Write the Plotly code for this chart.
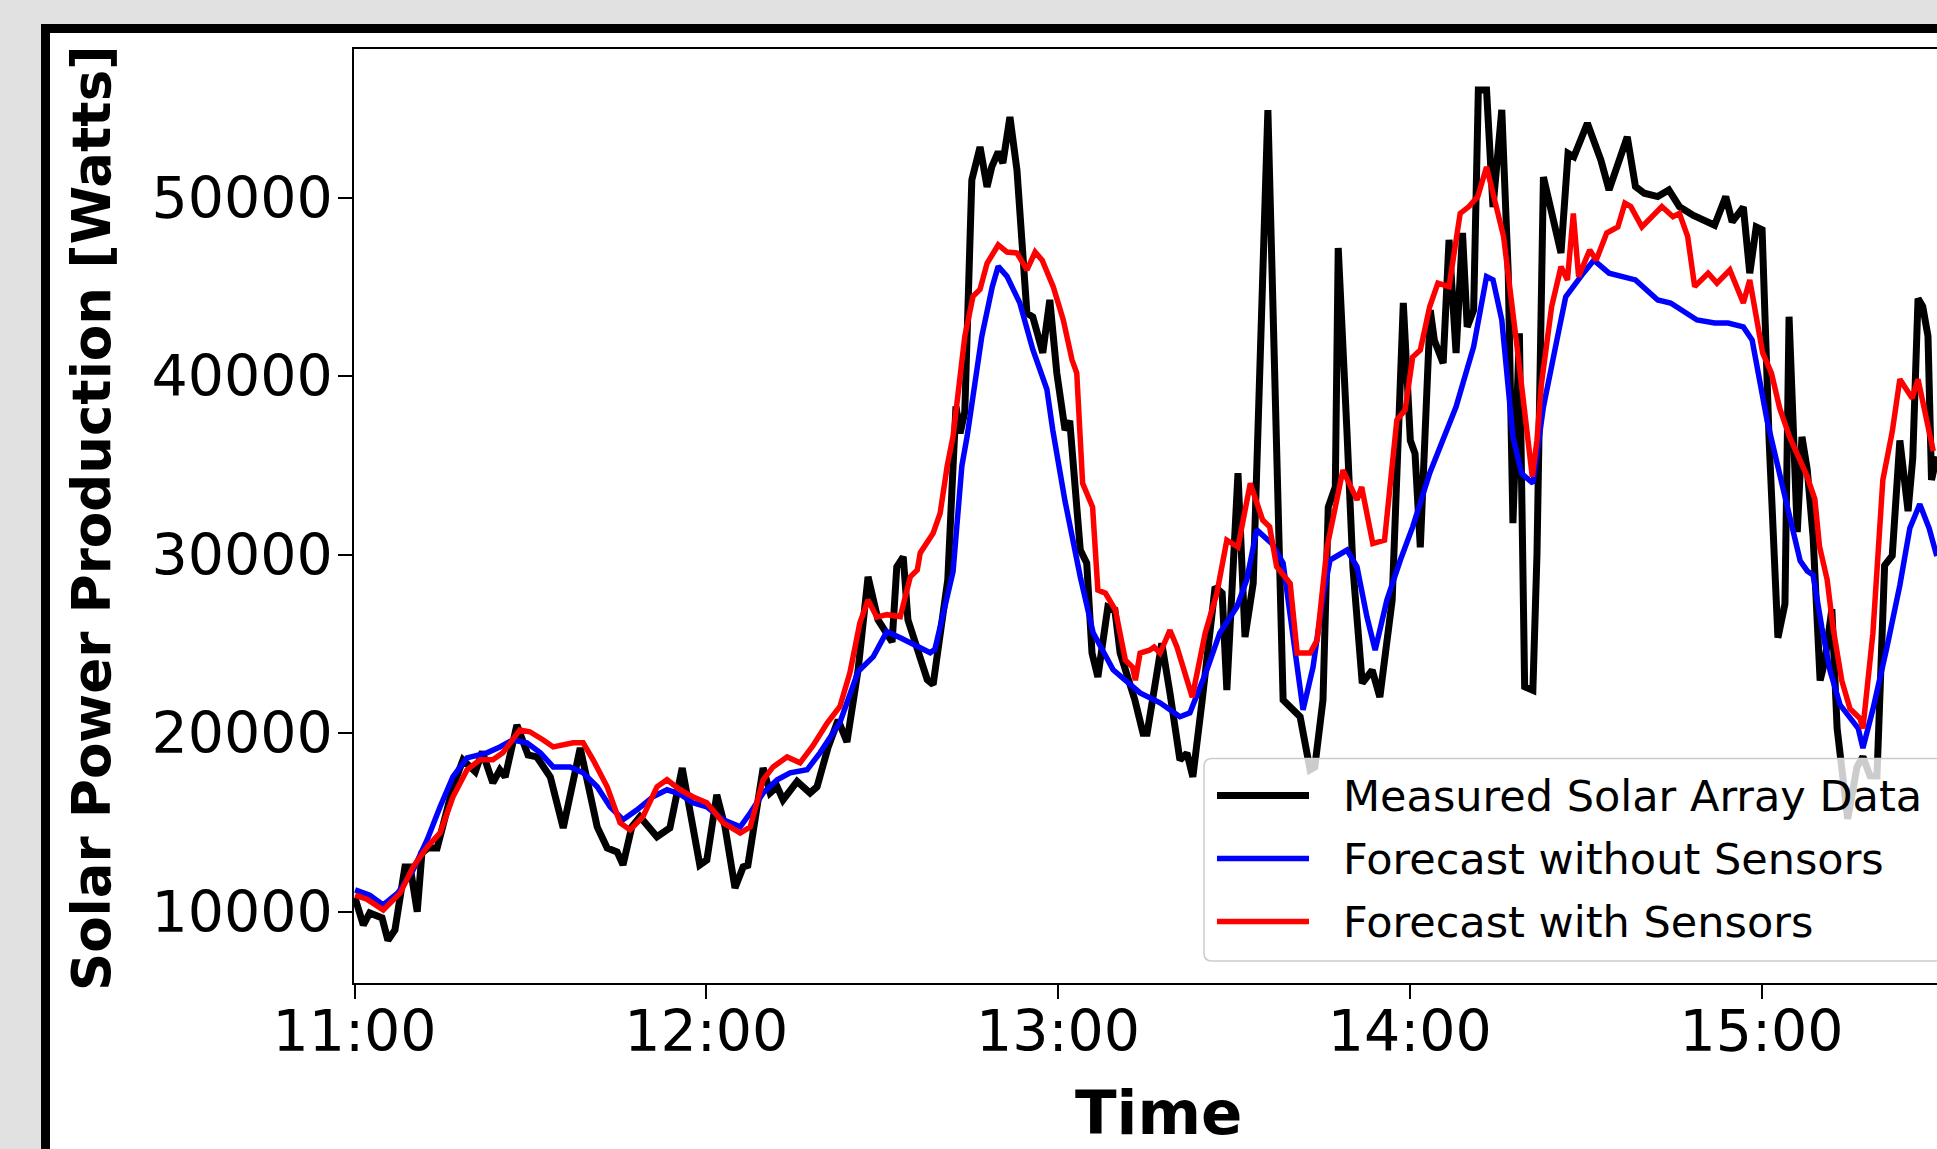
import plotly.graph_objects as go

# ---------------- data (minutes after 11:00, Watts) ----------------
t_measured = [0.1,1.5,2.6,4.7,5.7,6.9,8.6,9.5,10.7,11.5,
              12.5,14.1,14.9,16.8,18.5,20.6,21.8,23.6,24.8,25.7,
              27.7,29.6,31.1,33.4,35.6,38.5,41.4,43.1,44.8,45.8,
              47.3,48.7,51.6,53.8,55.9,57.2,58.9,60.1,61.8,63.2,
              64.9,66.3,67.1,69.7,70.9,72.1,73.1,75.5,77.7,78.9,
              80.8,82.5,84.0,85.9,87.6,89.3,91.7,92.5,93.6,94.4,
              96.0,97.7,98.7,99.9,101.2,102.1,102.6,103.3,104.1,105.3,
              106.7,107.9,108.7,109.8,110.6,111.8,113.0,114.7,115.7,117.4,
              118.6,119.8,121.2,122.0,123.8,124.9,125.8,126.8,128.5,129.7,
              130.6,133.1,134.5,135.2,137.7,139.1,140.8,142.0,143.0,144.6,
              146.8,148.0,148.8,150.7,151.9,153.3,155.8,158.4,159.9,161.3,
              163.0,163.8,165.2,166.1,167.3,167.8,169.3,170.3,171.9,173.6,
              174.9,177.0,178.9,180.1,180.9,181.8,183.5,184.2,185.7,186.7,
              187.9,189.0,189.8,190.9,191.7,193.1,194.2,195.7,196.8,197.6,
              198.7,199.6,201.0,201.7,202.8,205.8,207.0,208.0,210.3,212.6,
              214.0,217.1,218.5,220.0,222.3,224.2,226.0,228.3,232.0,233.9,
              235.0,236.9,238.0,239.1,240.1,241.3,242.8,244.0,244.7,246.1,
              246.9,247.8,248.8,250.0,250.8,252.0,252.9,254.7,256.3,257.3,
              258.5,259.7,261.0,262.3,263.6,265.0,265.8,266.7,267.5,268.4,
              269.0,269.9]
measured_w = [10770,9250,9930,9650,8400,8980,12510,12510,10000,13290,
              13570,13570,14580,17000,18500,17840,18960,17220,17940,17550,
              20460,18780,18670,17550,14690,19170,14750,13570,13350,12620,
              14750,15320,14200,14690,18050,15530,12620,12900,16550,14750,
              11330,12510,12600,18050,16650,17000,16260,17300,16650,17000,
              19230,20740,19510,23550,28760,26350,25110,29320,29880,26350,
              24840,23000,22720,25400,28590,34970,38300,36800,38000,50990,
              52840,50600,51720,52560,51940,54520,51550,43530,43320,41310,
              44270,40170,36980,37500,30260,29530,24490,23150,27070,26900,
              24490,21880,20000,20000,25040,22250,18500,18880,17550,21870,
              28200,27850,22410,34570,25390,28410,54910,21860,21300,20920,
              17950,18100,21860,32670,33790,47180,36810,29310,22800,23530,
              22020,27450,44100,36400,35660,30410,43700,42010,40730,47640,
              41300,48020,42760,43700,56030,56030,49470,54920,45770,31770,
              42400,22600,22400,30000,51160,46900,52480,52290,54170,52110,
              50430,53410,50620,50250,50060,50430,49500,49020,48460,50060,
              48650,49470,45770,48360,48200,36410,25350,27240,43330,31270,
              36600,34770,31000,22950,24030,26950,20270,15200,18120,18680,
              17610,17600,29400,29950,36400,32440,35400,44350,43900,42250,
              34190,35500]

t_without = [0.1,2.6,4.9,7.4,10.0,12.4,14.6,16.8,19.2,22.6,
             24.8,27.0,29.4,31.7,33.9,36.8,39.0,41.4,43.6,45.8,
             48.2,50.9,53.3,55.5,57.7,60.1,62.9,65.8,67.5,69.7,
             72.1,74.3,77.2,79.4,82.8,84.0,85.9,88.5,90.8,93.1,
             96.0,98.2,99.0,100.4,102.1,103.6,104.5,107.0,108.8,109.8,
             111.3,113.5,115.7,118.1,119.1,121.2,123.8,126.0,129.4,134.0,
             137.4,140.8,142.5,145.4,147.6,150.5,152.2,153.9,156.5,158.4,
             160.1,161.8,163.5,165.2,166.4,169.3,171.0,172.7,174.1,176.1,
             178.4,180.5,183.4,185.7,187.9,190.9,193.1,194.2,195.7,197.6,
             199.1,201.0,202.8,205.1,206.6,209.6,211.4,214.0,216.2,218.5,
             222.3,224.5,229.0,232.0,234.3,236.9,238.4,239.8,241.0,243.7,
             246.6,247.8,248.8,250.3,251.7,253.4,255.1,256.5,257.3,259.0,
             261.4,263.6,265.3,267.0,268.6,269.9]
forecast_without = [11220,10930,10380,11050,12340,14030,15880,17560,18620,18900,
                    19230,19620,19460,18900,18110,18110,17780,17000,15880,15150,
                    15710,16440,16830,16600,16100,15880,15150,14750,15530,16650,
                    17390,17780,17950,18900,20600,21700,23450,24290,25690,25350,
                    24840,24510,24700,26800,29050,34970,36630,42230,45030,46150,
                    45590,44090,41500,39270,37000,33000,28760,25620,23550,22260,
                    21700,20920,21140,23550,25620,27070,28590,31390,30620,29530,
                    25620,21300,23700,27630,29700,30260,29320,26510,24660,27460,
                    29700,31560,34570,36400,38280,41650,45580,45400,43150,36600,
                    34540,34000,38280,42030,44440,45770,46500,45770,45580,45390,
                    44270,44100,43150,42980,42980,42760,42030,39560,37440,33670,
                    29650,29090,28860,25910,23490,21590,20820,20270,19160,21340,
                    24820,28290,31480,32830,31480,29920]

t_with = [0.1,2.1,4.9,7.8,10.0,12.4,14.6,16.8,19.2,21.4,
          23.6,25.3,28.2,29.9,32.2,33.9,37.3,39.0,40.7,43.1,
          45.3,47.0,49.2,51.6,53.3,55.5,57.7,60.1,62.9,65.8,
          67.5,69.7,71.4,73.8,76.0,78.2,80.6,82.8,84.5,86.2,
          87.6,89.1,90.8,93.1,94.8,96.0,96.5,98.7,99.9,101.1,
          102.1,104.1,105.5,106.7,107.9,109.8,111.3,113.0,114.7,116.1,
          117.3,119.2,120.9,122.4,123.2,123.6,124.2,125.9,126.8,128.1,
          129.8,131.5,132.7,133.2,134.0,135.6,136.4,137.4,139.1,140.3,
          142.9,145.1,147.1,148.8,150.7,152.8,154.9,156.1,157.3,159.6,
          160.8,163.0,164.2,165.9,168.6,171.0,171.8,173.7,175.7,177.8,
          179.2,180.5,181.8,183.4,184.8,186.7,188.6,190.1,191.6,193.1,
          194.5,196.0,198.3,199.8,200.9,201.7,202.4,204.2,205.8,206.9,
          207.9,208.8,210.7,211.8,213.6,215.5,216.7,217.7,219.6,223.0,
          224.9,226.0,227.4,228.6,230.9,232.4,234.6,236.9,238.0,240.2,
          241.7,243.1,244.8,247.7,249.1,249.9,251.2,252.2,253.7,255.1,
          256.8,257.3,259.0,260.7,262.3,263.6,265.7,266.7,268.4,269.3]
forecast_with = [10930,10700,10100,11050,12510,13630,14410,16440,17950,18510,
                 18510,18900,20180,20080,19620,19230,19460,19460,18510,17000,
                 14980,14580,15320,17000,17390,16830,16440,16100,14980,14410,
                 14750,17390,18110,18670,18340,19300,20560,21500,23380,26180,
                 27460,26500,26640,26530,28760,29150,30100,31200,32330,34970,
                 36630,42230,44470,44860,46320,47350,46950,46900,45950,46950,
                 46500,45000,43150,40900,40170,38000,34000,32670,28020,27840,
                 26890,24090,23700,22970,24480,24650,24820,24480,25770,24820,
                 22020,25600,27840,30810,30430,34000,31950,31560,29320,28400,
                 24490,24490,25210,30430,34740,33070,33790,30620,30810,37540,
                 38100,41070,41460,43890,45210,45020,49120,49500,50060,51720,
                 49870,47830,41650,37400,34370,36410,39400,43890,46130,45390,
                 49120,45580,47070,46500,48020,48360,49690,49500,48360,49500,
                 48930,49120,47830,45020,45770,45210,45950,44100,45390,41300,
                 40170,38210,36590,34460,33110,30450,28600,25910,22940,21370,
                 20820,20270,25600,34190,36880,39830,38770,39830,37140,35800]

x_tick_minutes = [0, 60, 120, 180, 240]
x_tick_labels = ["11:00", "12:00", "13:00", "14:00", "15:00"]
y_tick_values = [10000, 20000, 30000, 40000, 50000]

series_names = ["Measured Solar Array Data", "Forecast without Sensors", "Forecast with Sensors"]
series_colors = ["#000000", "#0000ff", "#ff0000"]
series_widths = [7, 5.5, 5.5]

# ---------------- layout geometry (pixels) ----------------
W, H = 1937, 1149
ML, MR, MT, MB = 354, 0, 49, 166
PW, PH = W - ML - MR, H - MT - MB
BG = "#e1e1e1"

def px_x(X):
    return (X - ML) / PW

def px_y(Y):
    return (H - MB - Y) / PH

FONT = "DejaVu Sans"

fig = go.Figure()
data = [(t_measured, measured_w), (t_without, forecast_without), (t_with, forecast_with)]
for (tx, vy), name, col, lw in zip(data, series_names, series_colors, series_widths):
    fig.add_trace(go.Scatter(x=tx, y=vy, mode="lines", name=name,
                             line=dict(color=col, width=lw), showlegend=False))

shapes = []
# figure frame: white panel with thick black border
shapes.append(dict(type="rect", xref="paper", yref="paper",
                   x0=px_x(45.5), y0=px_y(28.5), x1=px_x(2300), y1=px_y(1500),
                   line=dict(color="black", width=9), fillcolor="white", layer="below"))

# legend box (rounded) extending past the right edge
lx0, lx1, ly0, ly1, r = 1204, 2100, 758.5, 961, 8
def P(X, Y):
    return f"{px_x(X):.5f},{px_y(Y):.5f}"
path = (f"M {P(lx0 + r, ly0)} L {P(lx1, ly0)} L {P(lx1, ly1)} L {P(lx0 + r, ly1)} "
        f"Q {P(lx0, ly1)} {P(lx0, ly1 - r)} L {P(lx0, ly0 + r)} Q {P(lx0, ly0)} {P(lx0 + r, ly0)} Z")
shapes.append(dict(type="path", xref="paper", yref="paper", path=path,
                   fillcolor="rgba(255,255,255,0.8)", line=dict(color="#cccccc", width=1.5),
                   layer="above"))

annotations = []
row_y = [795.5, 858.5, 921.5]
for name, col, lw, ry in zip(series_names, series_colors, series_widths, row_y):
    shapes.append(dict(type="line", xref="paper", yref="paper",
                       x0=px_x(1217), x1=px_x(1309), y0=px_y(ry), y1=px_y(ry),
                       line=dict(color=col, width=lw), layer="above"))
    annotations.append(dict(text=name, xref="paper", yref="paper", x=px_x(1341), y=px_y(ry),
                            xanchor="left", yanchor="middle", showarrow=False,
                            font=dict(family=FONT, size=43, color="black")))

# axis titles
annotations.append(dict(text="Time", xref="paper", yref="paper", x=px_x(1158), y=px_y(1112),
                        xanchor="center", yanchor="middle", showarrow=False,
                        font=dict(family=FONT, size=61, color="black", weight="bold")))
annotations.append(dict(text="Solar Power Production [Watts]", xref="paper", yref="paper",
                        x=px_x(91), y=px_y(519), textangle=-90,
                        xanchor="center", yanchor="middle", showarrow=False,
                        font=dict(family=FONT, size=53, color="black", weight="bold")))

x_range = [(ML - 354.5) / 5.8625, (W - 354.5) / 5.8625]
y_range = [10000 + (911.7 - (H - MB)) * 56.02, 10000 + (911.7 - MT) * 56.02]

fig.update_layout(
    width=W, height=H,
    margin=dict(l=ML, r=MR, t=MT, b=MB, autoexpand=False),
    paper_bgcolor=BG, plot_bgcolor="white",
    font=dict(family=FONT, color="black"),
    shapes=shapes, annotations=annotations, showlegend=False,
    xaxis=dict(range=x_range, showgrid=False, zeroline=False,
               showline=True, linecolor="black", linewidth=1.6, mirror=True,
               ticks="outside", ticklen=14, tickwidth=1.6, tickcolor="black",
               tickvals=x_tick_minutes, ticktext=x_tick_labels, ticklabelstandoff=-16,
               tickfont=dict(family=FONT, size=57, color="black")),
    yaxis=dict(range=y_range, showgrid=False, zeroline=False,
               showline=True, linecolor="black", linewidth=1.6, mirror=False,
               ticks="outside", ticklen=14, tickwidth=1.6, tickcolor="black",
               tickvals=y_tick_values, tickformat="d", ticklabelstandoff=-6,
               tickfont=dict(family=FONT, size=57, color="black")),
)

fig.write_html("out.html",
               config={"displayModeBar": False},
               post_script="document.body.style.margin='0px';"
                           "document.body.style.padding='0px';"
                           "document.body.style.overflow='hidden';"
                           "document.body.style.backgroundColor='" + BG + "';")
